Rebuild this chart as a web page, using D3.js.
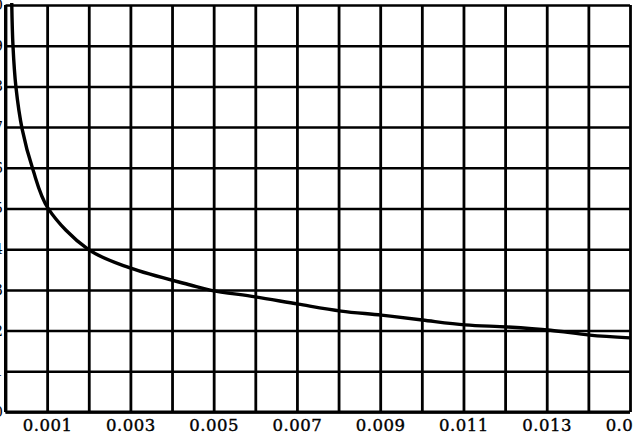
<!DOCTYPE html>
<html><head><meta charset="utf-8">
<script src="https://cdn.jsdelivr.net/npm/d3@7"></script>
<style>
html,body{margin:0;padding:0;background:#fff;overflow:hidden;}
svg{display:block;}
</style></head>
<body>
<svg id="chart" width="633" height="435"></svg>
<script>
// Data
const xValues = [0.00015, 0.00018, 0.00025, 0.0004, 0.00066, 0.00102, 0.00198, 0.00299, 0.00444, 0.00494, 0.0060, 0.00703, 0.00806, 0.00903, 0.01001, 0.01104, 0.01206, 0.01309, 0.01403, 0.0150];
const yValues = [10.05, 8.99, 7.99, 6.95, 5.95, 5.01, 4.0, 3.54, 3.12, 2.99, 2.83, 2.65, 2.48, 2.38, 2.26, 2.14, 2.09, 2.01, 1.89, 1.82];
const xTicks = d3.range(0, 16).map(i => +(i * 0.001).toFixed(3));
const xTickLabels = ["", "0.001", "", "0.003", "", "0.005", "", "0.007", "", "0.009", "", "0.011", "", "0.013", "", "0.015"];
const yTicks = d3.range(0, 11);
const yTickLabels = ["0", "1", "2", "3", "4", "5", "6", "7", "8", "9", "10"];

(function () {
const svg = d3.select("#chart");
const mLeft = 5.5, mRight = 630, mTop = 5, mBottom = 412;

const x = d3.scaleLinear().domain([0, 0.015]).range([mLeft, mRight]);
const y = d3.scaleLinear().domain([0, 10]).range([mBottom, mTop]);

// vertical grid + labels
const xAxis = d3.axisBottom(x).tickValues(xTicks).tickSize(-(mBottom - mTop)).tickSizeOuter(0)
  .tickFormat((d, i) => xTickLabels[i]);
const gx = svg.append("g").attr("transform", `translate(0,${mBottom})`).call(xAxis);
gx.select(".domain").remove();
gx.selectAll(".tick line").attr("stroke", "#000").attr("stroke-width", 2.8);
gx.selectAll(".tick text").attr("y", 7).attr("dy", "0.71em")
  .style("font-family", "'DejaVu Serif', serif").style("font-size", "16.5px")
  .style("letter-spacing", "0.5px").attr("fill", "#000")
  .attr("stroke", "#000").attr("stroke-width", 0.4);

// horizontal grid + (cut-off) labels
const yAxis = d3.axisLeft(y).tickValues(yTicks).tickSize(-(mRight - mLeft)).tickSizeOuter(0)
  .tickFormat((d, i) => yTickLabels[i]);
const gy = svg.append("g").attr("transform", `translate(${mLeft},0)`).call(yAxis);
gy.select(".domain").remove();
gy.selectAll(".tick line").attr("stroke", "#000").attr("stroke-width", 2.5);
gy.selectAll(".tick text").attr("x", -2.5)
  .style("font-family", "'DejaVu Serif', serif").style("font-size", "14px").attr("fill", "#000");

// frame edges
svg.append("line").attr("x1", x(0)).attr("x2", x(0)).attr("y1", mTop).attr("y2", mBottom)
  .attr("stroke", "#000").attr("stroke-width", 3);
svg.append("line").attr("x1", mLeft).attr("x2", mRight).attr("y1", y(0)).attr("y2", y(0))
  .attr("stroke", "#000").attr("stroke-width", 3.2);

// curve
const pts = xValues.map((v, i) => [v, yValues[i]]);
const line = d3.line().x(d => x(d[0])).y(d => y(d[1])).curve(d3.curveCatmullRom.alpha(0.5));
svg.append("path").datum(pts).attr("d", line).attr("fill", "none")
  .attr("stroke", "#000").attr("stroke-width", 3.4).attr("stroke-linejoin", "round");
})();
</script>
</body></html>
